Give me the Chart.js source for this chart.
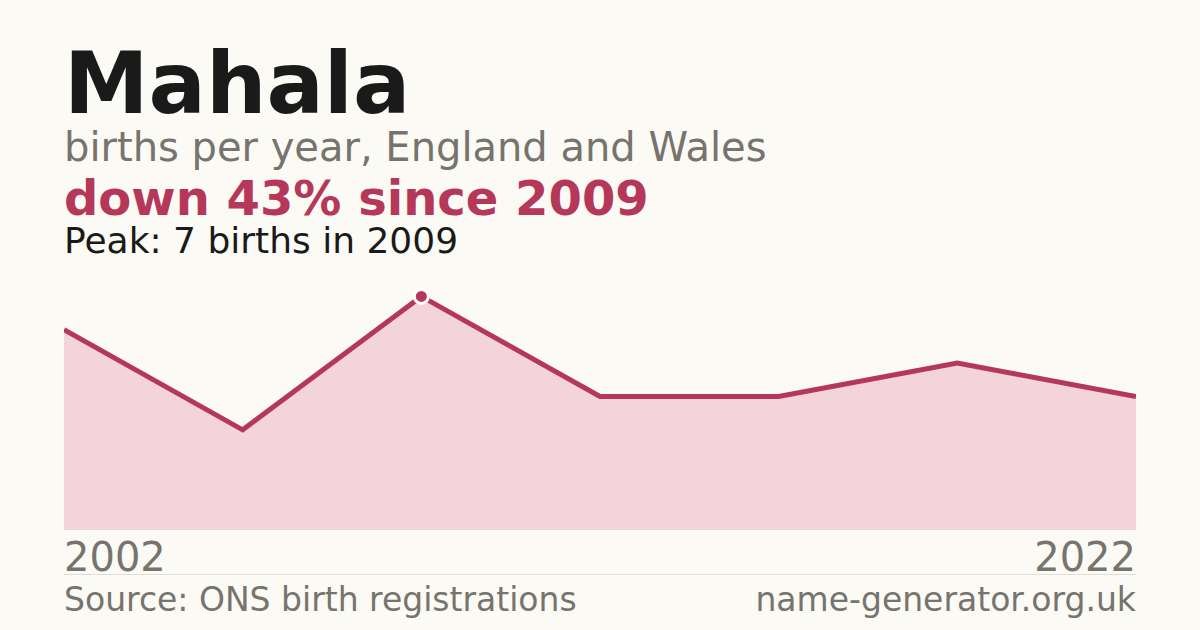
<!DOCTYPE html>
<html><head><meta charset="utf-8">
<script src="https://cdn.jsdelivr.net/npm/chart.js@4"></script>
<style>
body{margin:0;width:1200px;height:630px;background:#fbfaf5;font-family:"DejaVu Sans",sans-serif;position:relative;overflow:hidden}
.t{position:absolute;left:64px;white-space:nowrap;line-height:1}
#w{position:absolute;left:64px;top:263px;width:1072px;height:267px}
</style></head><body>
<div class="t" style="top:41px;font-size:85px;font-weight:bold;color:#1a1a1a">Mahala</div>
<div class="t" style="top:127px;font-size:40px;color:#77736d">births per year, England and Wales</div>
<div class="t" style="top:174px;font-size:48px;font-weight:bold;color:#b5385a">down 43% since 2009</div>
<div class="t" style="top:223px;font-size:36px;color:#1a1a1a">Peak: 7 births in 2009</div>
<div id="w"><canvas id="c"></canvas></div>
<div class="t" id="xl" style="top:537px;font-size:40px;color:#77736d"></div>
<div class="t" id="xr" style="top:537px;left:auto;right:64px;font-size:40px;color:#77736d"></div>
<div style="position:absolute;left:64px;top:574px;width:1072px;height:1px;background:#e0ddd6"></div>
<div class="t" style="top:583px;font-size:33px;color:#77736d">Source: ONS birth registrations</div>
<div class="t" style="top:583px;left:auto;right:64px;font-size:33px;color:#77736d">name-generator.org.uk</div>
<script>
const years=["2002","2005","2009","2013","2016","2019","2022"];
const births=[6,3,7,4,4,5,4];
const peakIndex=2;
document.getElementById('xl').textContent=years[0];
document.getElementById('xr').textContent=years[years.length-1];
new Chart(document.getElementById('c'),{type:'line',
data:{labels:years,datasets:[{data:births,borderColor:'#b5385a',borderWidth:5,backgroundColor:'#f2d4da',fill:'origin',tension:0,
pointRadius:births.map((v,i)=>i===peakIndex?7:0),pointBackgroundColor:'#b5385a',pointBorderColor:'#ffffff',pointBorderWidth:3,clip:false}]},
options:{responsive:true,maintainAspectRatio:false,animation:false,layout:{padding:0},
plugins:{legend:{display:false},tooltip:{enabled:false}},
scales:{x:{display:false,offset:false},y:{display:false,min:0,max:8}}}});
</script></body></html>
